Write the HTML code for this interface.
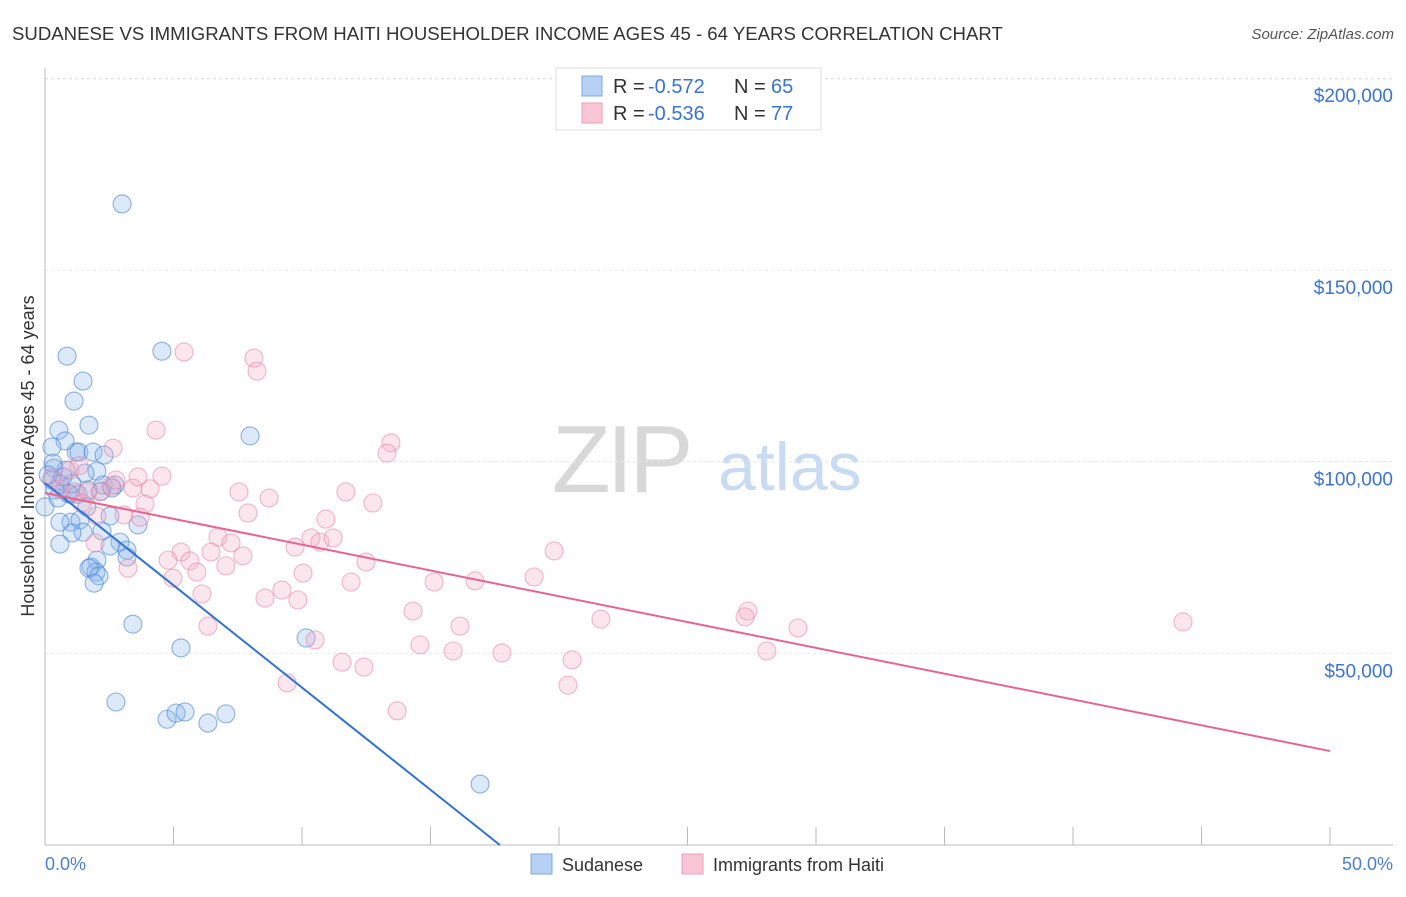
<!DOCTYPE html>
<html><head><meta charset="utf-8"><style>
body{margin:0;background:#fff;font-family:"Liberation Sans",sans-serif}
svg text{font-family:"Liberation Sans",sans-serif}
</style></head><body>
<svg id="chart" width="1406" height="892" xmlns="http://www.w3.org/2000/svg">
<text x="12" y="40" font-size="18.6" fill="#333">SUDANESE VS IMMIGRANTS FROM HAITI HOUSEHOLDER INCOME AGES 45 - 64 YEARS CORRELATION CHART</text>
<text x="1394" y="39" font-size="15" fill="#555" text-anchor="end" font-style="italic">Source: ZipAtlas.com</text>
<g>
<text x="552" y="492" font-size="96" fill="#d8d8d8" font-family="Liberation Serif" letter-spacing="-4">ZIP</text>
<text x="718" y="490" font-size="68" fill="#c8dbf2">atlas</text>
</g>
<g id="grid"></g><g id="axes"></g><g id="pts"></g><g id="lines"></g>
<text transform="translate(34,456) rotate(-90)" font-size="18" fill="#333" text-anchor="middle">Householder Income Ages 45 - 64 years</text>
<text x="45" y="870" font-size="18" fill="#4a7fd4">0.0%</text>
<text x="1393" y="870" font-size="18" fill="#4a7fd4" text-anchor="end">50.0%</text>
<g>
<rect x="556" y="68" width="265" height="62" fill="#fff" stroke="#ddd"/>
<rect x="582" y="76" width="20" height="20" fill="#b7d0f3" stroke="#7ea9e3"/>
<rect x="582" y="103" width="20" height="20" fill="#f9c6d6" stroke="#ee9db8"/>
<text x="613" y="93" font-size="20" fill="#333">R =</text>
<text x="648" y="93" font-size="20" fill="#3a73d6">-0.572</text>
<text x="734" y="93" font-size="20" fill="#333">N =</text>
<text x="771" y="93" font-size="20" fill="#3a73d6">65</text>
<text x="613" y="120" font-size="20" fill="#333">R =</text>
<text x="648" y="120" font-size="20" fill="#3a73d6">-0.536</text>
<text x="734" y="120" font-size="20" fill="#333">N =</text>
<text x="771" y="120" font-size="20" fill="#3a73d6">77</text>
</g>
<g>
<rect x="531" y="854" width="21" height="20" fill="#b7d0f3" stroke="#7ea9e3"/>
<text x="562" y="871" font-size="18" fill="#333">Sudanese</text>
<rect x="682" y="854" width="21" height="20" fill="#f9c6d6" stroke="#ee9db8"/>
<text x="713" y="871" font-size="18" fill="#333">Immigrants from Haiti</text>
</g>
</svg>
<script>
const yTicks=[50,100,150,200];
const yTickLabels=["$50,000","$100,000","$150,000","$200,000"];
const xTicks=[0,5,10,15,20,25,30,35,40,45,50];
const sudX=[3.0,0.86,4.55,1.48,1.13,1.71,0.54,7.98,0.78,0.27,1.21,1.32,1.87,2.30,0.31,2.02,0.82,0.35,1.56,2.72,0.27,0.58,0.97,2.18,1.28,1.63,2.53,1.01,1.36,3.62,0.58,0,2.22,1.48,1.05,2.92,0.58,2.53,3.19,3.19,2.02,1.79,1.98,1.71,2.10,1.91,3.42,5.29,10.16,2.76,4.75,5.10,5.45,6.34,7.04,16.93,0.51,0.89,1.05,0.39,1.67,0.12,0.70,2.26,2.61];
const sudY=[167.2,127.5,128.8,121.0,115.8,109.5,108.2,106.7,105.4,103.8,102.5,102.5,102.5,101.7,99.6,97.5,97.8,98.3,97.0,93.9,95.2,94.2,91.5,92.3,91.5,88.2,85.8,84.2,84.8,83.5,84.2,88.2,81.9,81.6,81.4,79.0,78.5,78.0,76.9,75.1,74.3,72.5,71.2,72.2,70.2,68.3,57.6,51.4,54.0,37.3,32.8,34.4,34.7,31.8,34.2,15.9,90.5,91.8,94.2,92.6,92.6,96.5,96.0,93.9,93.1];
const haiX=[5.41,8.13,8.25,4.32,13.46,13.31,2.65,4.55,2.57,4.09,3.42,7.55,11.71,8.72,12.76,3.89,7.90,10.93,3.07,2.02,3.70,19.81,1.95,3.23,6.73,7.24,5.29,6.46,7.70,4.79,5.64,9.73,10.35,10.70,11.21,12.49,5.91,7.04,4.98,10.04,15.14,16.73,19.03,11.91,9.22,8.56,9.84,6.11,6.34,14.32,27.35,27.24,21.63,16.15,29.30,44.28,10.51,14.59,15.88,17.78,28.09,20.51,11.56,12.41,9.42,20.35,13.70,1.17,0.58,0.27,0.97,1.67,1.44,2.14,2.76,3.62,1.32];
const haiY=[128.6,127.0,123.6,108.2,104.9,102.2,103.5,96.2,93.6,92.9,93.1,92.1,92.1,90.5,89.2,88.9,86.6,85.0,86.1,85.8,85.5,76.7,78.8,72.2,80.3,78.8,76.4,76.4,75.4,74.3,74.1,77.7,80.1,79.0,80.1,73.8,71.2,72.8,69.6,70.9,68.6,68.9,69.9,68.6,66.5,64.4,63.9,65.5,57.1,61.0,61.0,59.5,58.9,57.1,56.6,58.2,53.5,52.2,50.6,50.1,50.6,48.3,47.7,46.4,42.3,41.7,35.0,92.1,92.9,95.7,97.8,92.1,89.2,92.1,95.2,96.0,98.9];
const sudTrendX=[0,17.7];
const sudTrendY=[94.4,0];
const haiTrendX=[0,50];
const haiTrendY=[91.8,24.5];
const NS="http://www.w3.org/2000/svg";
const X=v=>45+v*25.7, Y=v=>845-v*3.834;
function mk(t,a,p){const e=document.createElementNS(NS,t);for(const k in a)e.setAttribute(k,a[k]);p.appendChild(e);return e;}
const grid=document.getElementById('grid'),axes=document.getElementById('axes'),pts=document.getElementById('pts'),lines=document.getElementById('lines');
yTicks.forEach((t,i)=>{
 const l=mk('line',{x1:45,x2:1393,y1:Y(t),y2:Y(t),stroke:'#e6e6e6','stroke-dasharray':'3,3'},grid);
 
 
 const tx=mk('text',{x:1393,y:Y(t)+24,'font-size':19,fill:'#3a73d6','text-anchor':'end'},grid);
 tx.textContent=yTickLabels[i];
 
 
});
const topLine=mk('line',{x1:45,x2:1393,y1:79,y2:79,stroke:'#e6e6e6','stroke-dasharray':'3,3'},grid);


const ya=mk('line',{x1:45,x2:45,y1:68,y2:845,stroke:'#bbb'},axes);


const xa=mk('line',{x1:45,x2:1393,y1:845,y2:845,stroke:'#bbb'},axes);


xTicks.forEach(t=>{
 const k=mk('line',{x1:X(t),x2:X(t),y1:827,y2:845,stroke:'#bbb'},axes);
 
 
});
sudX.forEach((v,i)=>{
 const c=mk('circle',{cx:X(v),cy:Y(sudY[i]),r:9,fill:'rgba(140,182,236,0.3)',stroke:'rgba(70,130,215,0.6)','stroke-width':1.1},pts);
 
 
});
haiX.forEach((v,i)=>{
 const c=mk('circle',{cx:X(v),cy:Y(haiY[i]),r:9,fill:'rgba(246,172,197,0.3)',stroke:'rgba(232,125,160,0.55)','stroke-width':1.1},pts);
 
 
});
const bl=mk('line',{x1:X(sudTrendX[0]),y1:Y(sudTrendY[0]),x2:X(sudTrendX[1]),y2:Y(sudTrendY[1]),stroke:'#2f72d8','stroke-width':2},lines);


const pl=mk('line',{x1:X(haiTrendX[0]),y1:Y(haiTrendY[0]),x2:X(haiTrendX[1]),y2:Y(haiTrendY[1]),stroke:'#e8648f','stroke-width':2},lines);


</script>
</body></html>
